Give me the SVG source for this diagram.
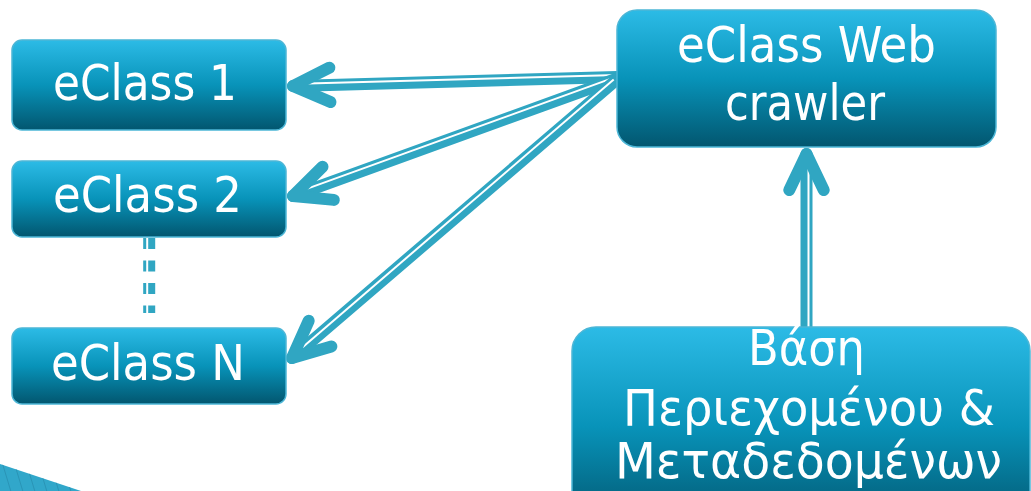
<svg xmlns="http://www.w3.org/2000/svg" width="1031" height="491" viewBox="0 0 1031 491">
<defs>
<linearGradient id="g" x1="0" y1="0" x2="0" y2="1">
<stop offset="0" stop-color="#2cbbe6"/>
<stop offset="0.5" stop-color="#0893b9"/>
<stop offset="1" stop-color="#02566f"/>
</linearGradient>
<clipPath id="cornerClip"><polygon points="0,464 81,491 0,491"/></clipPath>
<style>
.box{fill:url(#g);stroke:#4cb6d6;stroke-width:1.5}
.lbl{font-family:"DejaVu Sans Condensed","DejaVu Sans","Noto Sans",sans-serif;font-size:50px;fill:#ffffff}
.ln{stroke:#30a6c2;stroke-width:12;fill:none;stroke-linecap:round;stroke-linejoin:round}
.dash{stroke:#30a6c2;stroke-width:12;fill:none;stroke-linecap:butt;stroke-dasharray:11 11.5}
.gap{stroke:#ffffff;stroke-width:2;fill:none}
.head{stroke:#30a6c2;stroke-width:12;fill:none;stroke-linecap:round;stroke-linejoin:round}
</style>
</defs>
<rect width="1031" height="491" fill="#ffffff"/>
<g id="corner">
<polygon points="0,464 81,491 0,491" fill="#31a7ca"/>
<g clip-path="url(#cornerClip)" stroke="#2a94b6" stroke-width="1">
<line x1="2" y1="462" x2="12" y2="495"/>
<line x1="14" y1="462" x2="24" y2="495"/>
<line x1="26" y1="462" x2="36" y2="495"/>
<line x1="38" y1="462" x2="48" y2="495"/>
<line x1="50" y1="462" x2="60" y2="495"/>
<line x1="62" y1="462" x2="72" y2="495"/>
</g>
</g>
<g id="connectors">
<line class="dash" x1="149.2" y1="238" x2="149.2" y2="313"/>
<line class="gap" x1="147.2" y1="236" x2="147.2" y2="315"/>
<line class="ln" x1="617" y1="77" x2="293" y2="86"/>
<line class="gap" x1="617" y1="75" x2="308" y2="83.6"/>
<polyline class="head" points="329.4,67.7 293,86 330.5,102.1"/>
<line class="ln" x1="616" y1="79" x2="293" y2="196"/>
<line class="gap" x1="615.3" y1="77.1" x2="306" y2="189.1"/>
<polyline class="head" points="322.5,166.7 293,196 333.8,199.9"/>
<line class="ln" x1="615" y1="81" x2="292" y2="358"/>
<line class="gap" x1="613.7" y1="79.5" x2="302.6" y2="347.3"/>
<polyline class="head" points="308.7,320.8 292,358 331.4,346.4"/>
<line class="ln" x1="806.5" y1="330" x2="806.5" y2="154"/>
<line class="gap" x1="808.5" y1="330" x2="808.5" y2="168"/>
<polyline class="head" points="789.3,190 806.5,154 823.7,190"/>
</g>
<g id="eclass1">
<rect class="box" x="12" y="40" width="274" height="90" rx="10"/>
<text class="lbl" x="53" y="100" textLength="184" lengthAdjust="spacingAndGlyphs">eClass 1</text>
</g>
<g id="eclass2">
<rect class="box" x="12" y="161" width="274" height="76" rx="10"/>
<text class="lbl" x="53" y="212" textLength="189" lengthAdjust="spacingAndGlyphs">eClass 2</text>
</g>
<g id="eclassN">
<rect class="box" x="12" y="328" width="274" height="76" rx="10"/>
<text class="lbl" x="51" y="380" textLength="194" lengthAdjust="spacingAndGlyphs">eClass N</text>
</g>
<g id="crawler">
<rect class="box" x="617" y="10" width="379" height="137" rx="20"/>
<text class="lbl" x="677" y="62" textLength="259" lengthAdjust="spacingAndGlyphs">eClass Web</text>
<text class="lbl" x="725" y="120" textLength="160" lengthAdjust="spacingAndGlyphs">crawler</text>
</g>
<g id="database">
<rect class="box" x="572" y="327" width="458" height="200" rx="24"/>
<text class="lbl" x="748" y="365" textLength="117" lengthAdjust="spacingAndGlyphs">Βάση</text>
<text class="lbl" x="623" y="425" textLength="372" lengthAdjust="spacingAndGlyphs">Περιεχομένου &amp;</text>
<text class="lbl" x="615" y="478" textLength="387" lengthAdjust="spacingAndGlyphs">Μεταδεδομένων</text>
</g>
</svg>
